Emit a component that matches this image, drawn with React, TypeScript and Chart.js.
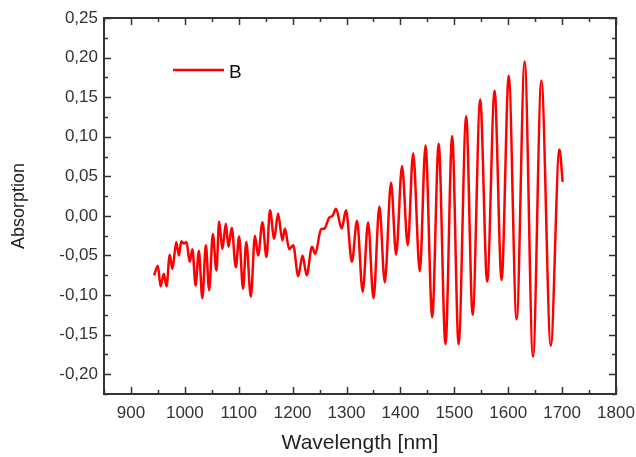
import { useEffect, useRef } from "react";
import { Chart, registerables } from "chart.js";

Chart.register(...registerables);

const seriesLabel = "B";
const xTitle = "Wavelength [nm]";
const yTitle = "Absorption";

const wavelengths = [
  943, 950, 955, 961, 966, 972, 977, 984, 989, 993.5, 998.5, 1003, 1009, 1014, 1020, 1026,
  1032.5, 1039, 1045, 1052, 1058.6, 1063.6, 1069.7, 1076, 1081, 1087, 1094.6, 1100.7, 1108,
  1114, 1122.5, 1130, 1136, 1144, 1151.5, 1158, 1165.8, 1173, 1181, 1185.6, 1193.7, 1201,
  1210.4, 1218.4, 1226, 1236, 1242, 1252.6, 1259, 1268, 1274, 1280.5, 1291, 1299, 1310,
  1319.5, 1330, 1340, 1350, 1361, 1371, 1382.6, 1392, 1403, 1413.6, 1423.6, 1436, 1446.5,
  1459, 1471, 1483.6, 1496, 1508, 1522, 1534, 1548, 1561, 1574.7, 1587.7, 1601, 1615.6,
  1630.5, 1646, 1661.5, 1679, 1695, 1701,
];

const absorption = [
  -0.075, -0.063, -0.089, -0.073, -0.089, -0.049, -0.067, -0.033, -0.05, -0.032, -0.035,
  -0.033, -0.058, -0.042, -0.088, -0.044, -0.104, -0.037, -0.094, -0.023, -0.069, -0.007,
  -0.042, -0.01, -0.039, -0.015, -0.065, -0.026, -0.092, -0.033, -0.102, -0.025, -0.05,
  -0.008, -0.052, 0.007, -0.029, 0.003, -0.031, -0.016, -0.042, -0.037, -0.076, -0.05,
  -0.075, -0.039, -0.048, -0.017, -0.016, -0.002, 0.0, 0.009, -0.016, 0.007, -0.058,
  -0.006, -0.096, -0.008, -0.104, 0.012, -0.084, 0.042, -0.049, 0.063, -0.037, 0.079,
  -0.07, 0.089, -0.128, 0.091, -0.162, 0.101, -0.162, 0.126, -0.125, 0.147, -0.083, 0.158,
  -0.081, 0.177, -0.131, 0.195, -0.178, 0.171, -0.164, 0.084, 0.043,
];

const xTicks = [900, 1000, 1100, 1200, 1300, 1400, 1500, 1600, 1700, 1800];
const xMinorTicks = [850, 950, 1050, 1150, 1250, 1350, 1450, 1550, 1650, 1750];
const yTicks = [-0.2, -0.15, -0.1, -0.05, 0, 0.05, 0.1, 0.15, 0.2, 0.25];
const yMinorTicks = [-0.225, -0.175, -0.125, -0.075, -0.025, 0.025, 0.075, 0.125, 0.175, 0.225];

const FONT = "'Liberation Sans', Arial, sans-serif";
const fmt = (v: number) => v.toFixed(2).replace(".", ",");

const framePlugin = {
  id: "frame",
  afterDraw(chart: any) {
    const { ctx, chartArea: a, scales } = chart;
    const xs = scales.x;
    const ys = scales.y;
    ctx.save();
    ctx.strokeStyle = "#333";
    ctx.lineWidth = 1.5;
    const major = 7;
    const minor = 4;
    const drawX = (vals: number[], len: number) => {
      vals.forEach((v) => {
        const px = Math.round(xs.getPixelForValue(v)) + 0.5;
        ctx.beginPath();
        ctx.moveTo(px, a.bottom);
        ctx.lineTo(px, a.bottom - len);
        ctx.moveTo(px, a.top);
        ctx.lineTo(px, a.top + len);
        ctx.stroke();
      });
    };
    const drawY = (vals: number[], len: number) => {
      vals.forEach((v) => {
        const py = Math.round(ys.getPixelForValue(v)) + 0.5;
        ctx.beginPath();
        ctx.moveTo(a.left, py);
        ctx.lineTo(a.left + len, py);
        ctx.moveTo(a.right, py);
        ctx.lineTo(a.right - len, py);
        ctx.stroke();
      });
    };
    drawX(xTicks, major);
    drawX(xMinorTicks, minor);
    drawY(yTicks, major);
    drawY(yMinorTicks, minor);
    ctx.lineWidth = 2;
    ctx.strokeRect(a.left, a.top, a.right - a.left, a.bottom - a.top);

    // legend
    ctx.strokeStyle = "#ff0000";
    ctx.lineWidth = 2.5;
    ctx.beginPath();
    ctx.moveTo(173, 70);
    ctx.lineTo(224, 70);
    ctx.stroke();
    ctx.fillStyle = "#111";
    ctx.font = `19px ${FONT}`;
    ctx.textBaseline = "alphabetic";
    ctx.textAlign = "left";
    ctx.fillText(chart.data.datasets[0].label, 229, 77.5);
    ctx.restore();
  },
};

export default function App() {
  const ref = useRef<HTMLCanvasElement | null>(null);

  useEffect(() => {
    document.body.style.margin = "0";
    const canvas = ref.current;
    if (!canvas) return;
    const points = wavelengths.map((w, i) => ({ x: w, y: absorption[i] }));
    const chart = new Chart(canvas, {
      type: "line",
      data: {
        datasets: [
          {
            label: seriesLabel,
            data: points,
            borderColor: "#ff0000",
            borderWidth: 2.5,
            pointRadius: 0,
            fill: false,
            cubicInterpolationMode: "monotone",
          },
        ],
      },
      options: {
        animation: false,
        responsive: false,
        events: [],
        layout: { padding: { top: 18, right: 20, left: 0, bottom: 0 } },
        plugins: {
          legend: { display: false },
          tooltip: { enabled: false },
        },
        scales: {
          x: {
            type: "linear",
            min: 850,
            max: 1800,
            grid: { display: false, drawTicks: false },
            border: { display: false },
            afterBuildTicks: (s: any) => {
              s.ticks = xTicks.map((v) => ({ value: v }));
            },
            afterFit: (s: any) => {
              s.height = 63;
              s.paddingLeft = 0;
              s.paddingRight = 0;
            },
            ticks: {
              padding: 9,
              color: "#333",
              font: { family: FONT, size: 17 },
              maxRotation: 0,
              callback: (v: any) => String(v),
            },
            title: {
              display: true,
              text: xTitle,
              color: "#222",
              font: { family: FONT, size: 21 },
              padding: { top: 0, bottom: 1 },
            },
          },
          y: {
            type: "linear",
            min: -0.225,
            max: 0.25,
            grid: { display: false, drawTicks: false },
            border: { display: false },
            afterBuildTicks: (s: any) => {
              s.ticks = yTicks.map((v) => ({ value: v }));
            },
            afterFit: (s: any) => {
              s.width = 104;
              s.paddingTop = 0;
              s.paddingBottom = 0;
            },
            ticks: {
              padding: 6,
              color: "#333",
              font: { family: FONT, size: 17 },
              callback: (v: any) => fmt(Number(v)),
            },
            title: {
              display: true,
              text: yTitle,
              color: "#222",
              font: { family: FONT, size: 18 },
              padding: { top: 8, bottom: 0 },
            },
          },
        },
      },
      plugins: [framePlugin],
    });
    return () => chart.destroy();
  }, []);

  return (
    <div style={{ position: "relative", width: 636, height: 457, background: "#fff" }}>
      <canvas ref={ref} width={636} height={457} />
    </div>
  );
}
